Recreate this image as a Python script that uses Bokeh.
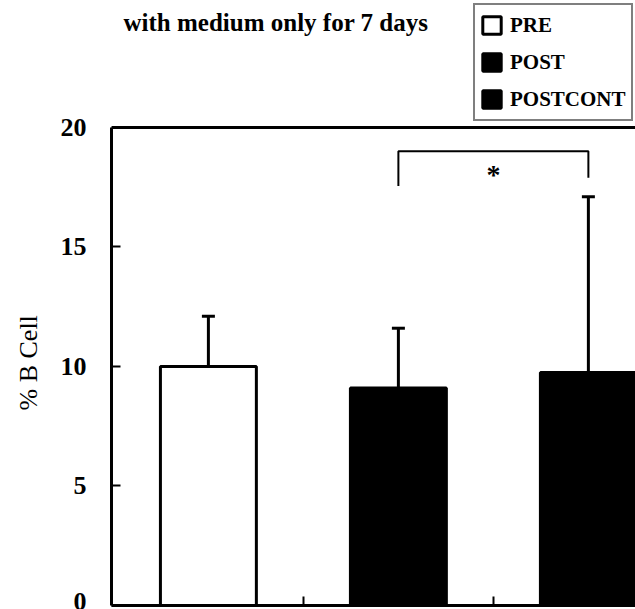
from bokeh.plotting import figure
from bokeh.models import (Range1d, LinearAxis, FixedTicker, Legend, LegendItem,
                          Label, ColumnDataSource, Span, Title)
from bokeh.core.properties import value
from bokeh.embed import file_html
from bokeh.resources import INLINE

# ---- data ----
categories = ["PRE", "POST", "POSTCONT"]
positions = [1, 2, 3]
means = [10.0, 9.1, 9.75]
upper = [12.1, 11.6, 17.1]          # mean + SD
fills = ["white", "black", "black"]
y_ticks = [0, 5, 10, 15, 20]
y_max = 20
x_minor_ticks = [1.5, 2.5]
bracket_x = [2, 2, 3, 3]
bracket_y = [17.55, 19.0, 19.0, 17.9]
star_x = [2.5]
star_y = [18.05]
star_text = ["*"]
title_text = "with medium only for 7 days"
y_label = "% B Cell"

SERIF = "Liberation Serif"

# frame spans the whole height above the plot so that the header (title and
# legend) is drawn inside it; the y axis itself is bounded to 0..20
p = figure(width=635, height=609, output_backend="svg", toolbar_location=None,
           x_range=Range1d(0.49, 3.248), y_range=Range1d(0, 25.31),
           x_axis_location=None, y_axis_location="left",
           min_border_left=111, min_border_right=0, min_border_top=0,
           min_border_bottom=4)
p.grid.visible = False
p.outline_line_color = None
p.background_fill_color = "white"
p.border_fill_color = "white"

# y axis
ya = p.yaxis[0]
ya.ticker = FixedTicker(ticks=y_ticks)
ya.bounds = (0, y_max)
ya.axis_line_width = 3
ya.major_tick_in = 9
ya.major_tick_out = 0
ya.major_tick_line_width = 2
ya.minor_tick_line_color = None
ya.major_label_standoff = 25
ya.major_label_text_font = SERIF
ya.major_label_text_font_size = "26px"
ya.major_label_text_font_style = "bold"
ya.major_label_text_color = "black"

# y axis title, placed along the 0..20 part of the axis
p.add_layout(Title(text=y_label, align="left", offset=195, standoff=26,
                   vertical_align="top",
                   text_font=SERIF, text_font_size="26px",
                   text_font_style="normal", text_color="black"), "left")

# bottom axis: line plus inward ticks between the bars (minor ticks, no labels)
xa = LinearAxis(ticker=FixedTicker(ticks=[], minor_ticks=x_minor_ticks),
                major_tick_line_color=None, major_label_standoff=0,
                minor_tick_in=9, minor_tick_out=0, minor_tick_line_width=2,
                axis_line_width=3)
p.add_layout(xa, "below")

# top border of the plot box
p.add_layout(Span(location=y_max, dimension="width", line_color="black",
                  line_width=3))

src = ColumnDataSource(dict(x=positions, top=means, upper=upper, fill=fills,
                            label=categories))
bars = p.vbar(x="x", top="top", width=0.505, fill_color="fill",
              line_color="black", line_width=3, source=src)
p.segment(x0="x", y0="top", x1="x", y1="upper", line_width=3,
          line_color="black", source=src)
p.scatter(x="x", y="upper", marker="dash", size=13, line_width=3,
          line_color="black", source=src)

# significance bracket
p.line(x=bracket_x, y=bracket_y, line_width=2, line_color="black")
p.text(x=star_x, y=star_y, text=star_text, text_font=value(SERIF),
       text_font_size="28px", text_font_style="bold", text_align="center",
       text_baseline="alphabetic", text_color="black")

legend = Legend(items=[LegendItem(label=categories[i], renderers=[bars], index=i)
                       for i in range(len(categories))],
                location=(362, 484), orientation="vertical",
                border_line_color="black", border_line_width=2,
                background_fill_color="white", background_fill_alpha=1,
                padding=5, spacing=7, margin=0,
                label_height=30, glyph_height=22, glyph_width=23,
                label_standoff=7,
                label_text_font=SERIF, label_text_font_size="21px",
                label_text_font_style="bold", label_text_color="black")
p.add_layout(legend)

title = Label(x=12, y=583, x_units="screen", y_units="screen", text=title_text,
              text_font=SERIF, text_font_size="25px",
              text_font_style="bold", text_color="black",
              text_baseline="alphabetic", text_align="left")
p.add_layout(title)

open("out.html", "w").write(file_html(p, INLINE))
